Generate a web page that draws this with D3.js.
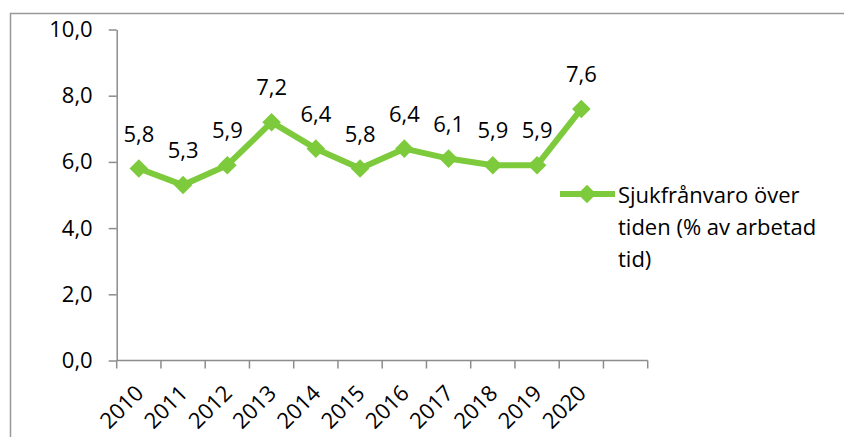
<!DOCTYPE html>
<html>
<head>
<meta charset="utf-8">
<script src="https://cdn.jsdelivr.net/npm/d3@7"></script>
<style>
  html, body { margin: 0; padding: 0; background: #fff; }
  svg { display: block; }
  text { font-family: "Open Sans", "Noto Sans", sans-serif; fill: #000; }
</style>
</head>
<body>
<svg id="chart" width="844" height="437"></svg>
<script>
// Sjukfrånvaro per år (% av arbetad tid)
const years = ["2010", "2011", "2012", "2013", "2014", "2015", "2016", "2017", "2018", "2019", "2020", ""];
const values = [5.8, 5.3, 5.9, 7.2, 6.4, 5.8, 6.4, 6.1, 5.9, 5.9, 7.6];
const yTicks = [0, 2, 4, 6, 8, 10];
const seriesName = ["Sjukfrånvaro över", "tiden (% av arbetad", "tid)"];

const green = "#7dcb3c";
const axisGrey = "#8c8c8c";
const fontSize = 22;
const fmt = v => v.toFixed(1).replace(".", ",");

const svg = d3.select("#chart");

// outer chart frame
svg.append("rect")
  .attr("x", 10.5).attr("y", 13.5)
  .attr("width", 900).attr("height", 500)
  .attr("fill", "none").attr("stroke", "#999").attr("stroke-width", 1.5);

const plot = { left: 116.7, right: 647.7, top: 29.5, bottom: 360.5 };

const x = d3.scaleBand().domain(years).range([plot.left, plot.right]).padding(0);
const y = d3.scaleLinear().domain([0, 10]).range([plot.bottom, plot.top]);

// y axis
const yAxis = svg.append("g")
  .attr("transform", `translate(${plot.left},0)`)
  .call(d3.axisLeft(y).tickValues(yTicks).tickFormat(fmt).tickSize(8).tickPadding(16).tickSizeOuter(0));
yAxis.select(".domain").attr("stroke", axisGrey).attr("stroke-width", 1.5);
yAxis.selectAll(".tick line").attr("stroke", axisGrey).attr("stroke-width", 1.5);
yAxis.selectAll(".tick text").attr("font-size", fontSize).attr("fill", "#000")
  .attr("font-family", "'Open Sans', sans-serif");

// x axis: tick marks on category boundaries
const xg = svg.append("g").attr("transform", `translate(0,${plot.bottom})`);
xg.append("line")
  .attr("x1", plot.left).attr("x2", plot.right)
  .attr("stroke", axisGrey).attr("stroke-width", 1.5);
const bounds = years.map(d => x(d)).concat([x(years[years.length - 1]) + x.bandwidth()]);
xg.selectAll("line.tick").data(bounds).join("line")
  .attr("class", "tick")
  .attr("x1", d => d).attr("x2", d => d)
  .attr("y1", 0).attr("y2", 8)
  .attr("stroke", axisGrey).attr("stroke-width", 1.5);
xg.selectAll("text").data(years.filter(d => d)).join("text")
  .attr("transform", d => `translate(${x(d) + x.bandwidth() / 2 + 6},${34}) rotate(-45)`)
  .attr("text-anchor", "end")
  .attr("font-size", fontSize)
  .text(d => d);

// series line
const cx = (d, i) => x(years[i]) + x.bandwidth() / 2;
const line = d3.line().x(cx).y(d => y(d));
svg.append("path")
  .datum(values)
  .attr("d", line)
  .attr("fill", "none")
  .attr("stroke", green)
  .attr("stroke-width", 6)
  .attr("stroke-linejoin", "round");

// diamond markers
const diamond = d3.symbol().type(d3.symbolDiamond2).size(220);
svg.selectAll("path.marker").data(values).join("path")
  .attr("class", "marker")
  .attr("d", diamond)
  .attr("transform", (d, i) => `translate(${cx(d, i)},${y(d)})`)
  .attr("fill", green);

// value labels
svg.selectAll("text.val").data(values).join("text")
  .attr("class", "val")
  .attr("x", cx)
  .attr("y", d => y(d) - 27)
  .attr("text-anchor", "middle")
  .attr("font-size", fontSize)
  .text(fmt);

// legend
const lg = svg.append("g");
lg.append("line")
  .attr("x1", 560).attr("x2", 615).attr("y1", 194).attr("y2", 194)
  .attr("stroke", green).attr("stroke-width", 6);
lg.append("path")
  .attr("d", diamond)
  .attr("transform", "translate(587,194)")
  .attr("fill", green);
lg.selectAll("text").data(seriesName).join("text")
  .attr("x", 618)
  .attr("y", (d, i) => 203 + i * 32)
  .attr("font-size", fontSize)
  .text(d => d);
</script>
</body>
</html>
